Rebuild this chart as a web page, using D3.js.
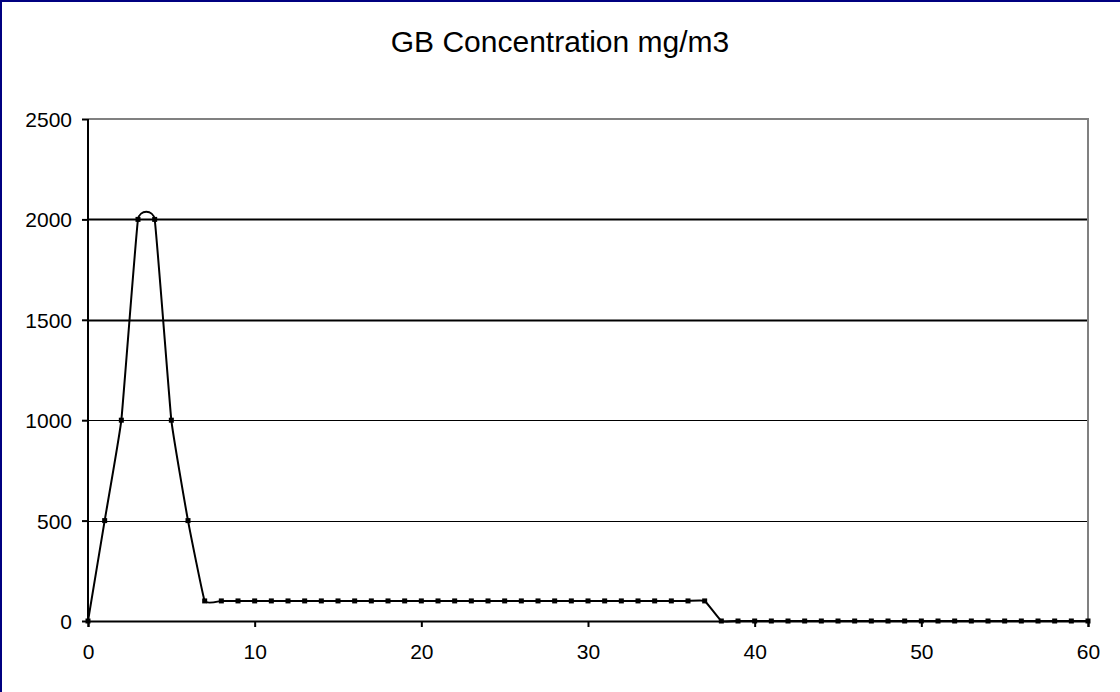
<!DOCTYPE html>
<html>
<head>
<meta charset="utf-8">
<script src="https://cdn.jsdelivr.net/npm/d3@7"></script>
<style>
  body { margin: 0; background: #fff; }
  text { font-family: "Liberation Sans", Arial, sans-serif; fill: #000; }
</style>
</head>
<body>
<div id="chart"></div>
<script>
// data
var minutes = [0, 1, 2, 3, 4, 5, 6, 7, 8, 9, 10, 11, 12, 13, 14, 15, 16, 17, 18, 19, 20,
               21, 22, 23, 24, 25, 26, 27, 28, 29, 30, 31, 32, 33, 34, 35, 36, 37, 38, 39, 40,
               41, 42, 43, 44, 45, 46, 47, 48, 49, 50, 51, 52, 53, 54, 55, 56, 57, 58, 59, 60];
var concentration = [0, 500, 1000, 2000, 2000, 1000, 500, 100, 100, 100, 100, 100, 100, 100, 100, 100, 100, 100, 100, 100, 100,
                     100, 100, 100, 100, 100, 100, 100, 100, 100, 100, 100, 100, 100, 100, 100, 100, 100, 0, 0, 0,
                     0, 0, 0, 0, 0, 0, 0, 0, 0, 0, 0, 0, 0, 0, 0, 0, 0, 0, 0, 0];
var xTicks = [0, 10, 20, 30, 40, 50, 60];
var yTicks = [0, 500, 1000, 1500, 2000, 2500];
var title = "GB Concentration mg/m3";

var width = 1120, height = 692;
var plotLeft = 88, plotRight = 1088, plotTop = 119, plotBottom = 621;

var xScale = d3.scaleLinear()
				.domain([0, 60])
				.range([plotLeft, plotRight]);

var yScale = d3.scaleLinear()
				.domain([0, 2500])
				.range([plotBottom, plotTop]);

var svg = d3.select("#chart").append("svg")
			.attr("width", width)
			.attr("height", height);

// frame (top and left edge only visible)
svg.append("line")
	.attr("x1", 0).attr("x2", width).attr("y1", 1).attr("y2", 1)
	.style("stroke", "#000080").style("stroke-width", 2);
svg.append("line")
	.attr("x1", 1).attr("x2", 1).attr("y1", 0).attr("y2", height)
	.style("stroke", "#000080").style("stroke-width", 2);

// title
svg.append("text")
	.attr("x", width / 2)
	.attr("y", 52)
	.attr("text-anchor", "middle")
	.style("font-size", "30px")
	.text(title);

// gridlines
svg.selectAll("line.grid")
	.data(yTicks.filter(function(d) { return d > 0 && d < 2500; }))
	.enter().append("line")
		.attr("class", "grid")
		.attr("x1", plotLeft)
		.attr("x2", plotRight)
		.attr("y1", function(d) { return Math.round(yScale(d)) + 0.5; })
		.attr("y2", function(d) { return Math.round(yScale(d)) + 0.5; })
		.style("stroke", "#000")
		.style("stroke-width", function(d) { return d >= 1500 ? 2 : 1; });

// plot area border top/right
svg.append("path")
	.attr("d", "M" + plotLeft + "," + yScale(2500) + "H" + plotRight + "V" + plotBottom)
	.style("fill", "none")
	.style("stroke", "#808080")
	.style("stroke-width", 2);

// axes
var yAxis = d3.axisLeft(yScale).tickValues(yTicks).tickSize(6).tickPadding(10).tickFormat(d3.format("d"));
var xAxis = d3.axisBottom(xScale).tickValues(xTicks).tickSize(6).tickPadding(17).tickFormat(d3.format("d"));

var gy = svg.append("g").attr("transform", "translate(" + plotLeft + ",0)").call(yAxis);
var gx = svg.append("g").attr("transform", "translate(0," + plotBottom + ")").call(xAxis);

[gx, gy].forEach(function(g) {
	g.select(".domain").style("stroke", "#000").style("stroke-width", 2);
	g.selectAll(".tick line").style("stroke", "#000").style("stroke-width", 2);
	g.selectAll(".tick text")
		.style("font-size", "21px")
		.style("font-family", "'Liberation Sans', Arial, sans-serif")
		.attr("fill", "#000");
});
gy.select(".domain").attr("d", "M0," + yScale(2500) + "V" + plotBottom);
gy.selectAll(".tick text").attr("dy", "0.36em");

// series (smoothed line with square markers)
var points = minutes.map(function(m, i) { return { x: m, y: concentration[i] }; });

var line = d3.line()
			.x(function(d) { return xScale(d.x); })
			.y(function(d) { return yScale(d.y); })
			.curve(d3.curveCardinal.tension(0.7));

svg.append("path")
	.datum(points)
	.attr("d", line)
	.style("fill", "none")
	.style("stroke", "#000")
	.style("stroke-width", 2);

svg.selectAll("rect.marker")
	.data(points)
	.enter().append("rect")
		.attr("class", "marker")
		.attr("x", function(d) { return xScale(d.x) - 2.5; })
		.attr("y", function(d) { return yScale(d.y) - 2.5; })
		.attr("width", 5)
		.attr("height", 5)
		.style("fill", "#000");
</script>
</body>
</html>
